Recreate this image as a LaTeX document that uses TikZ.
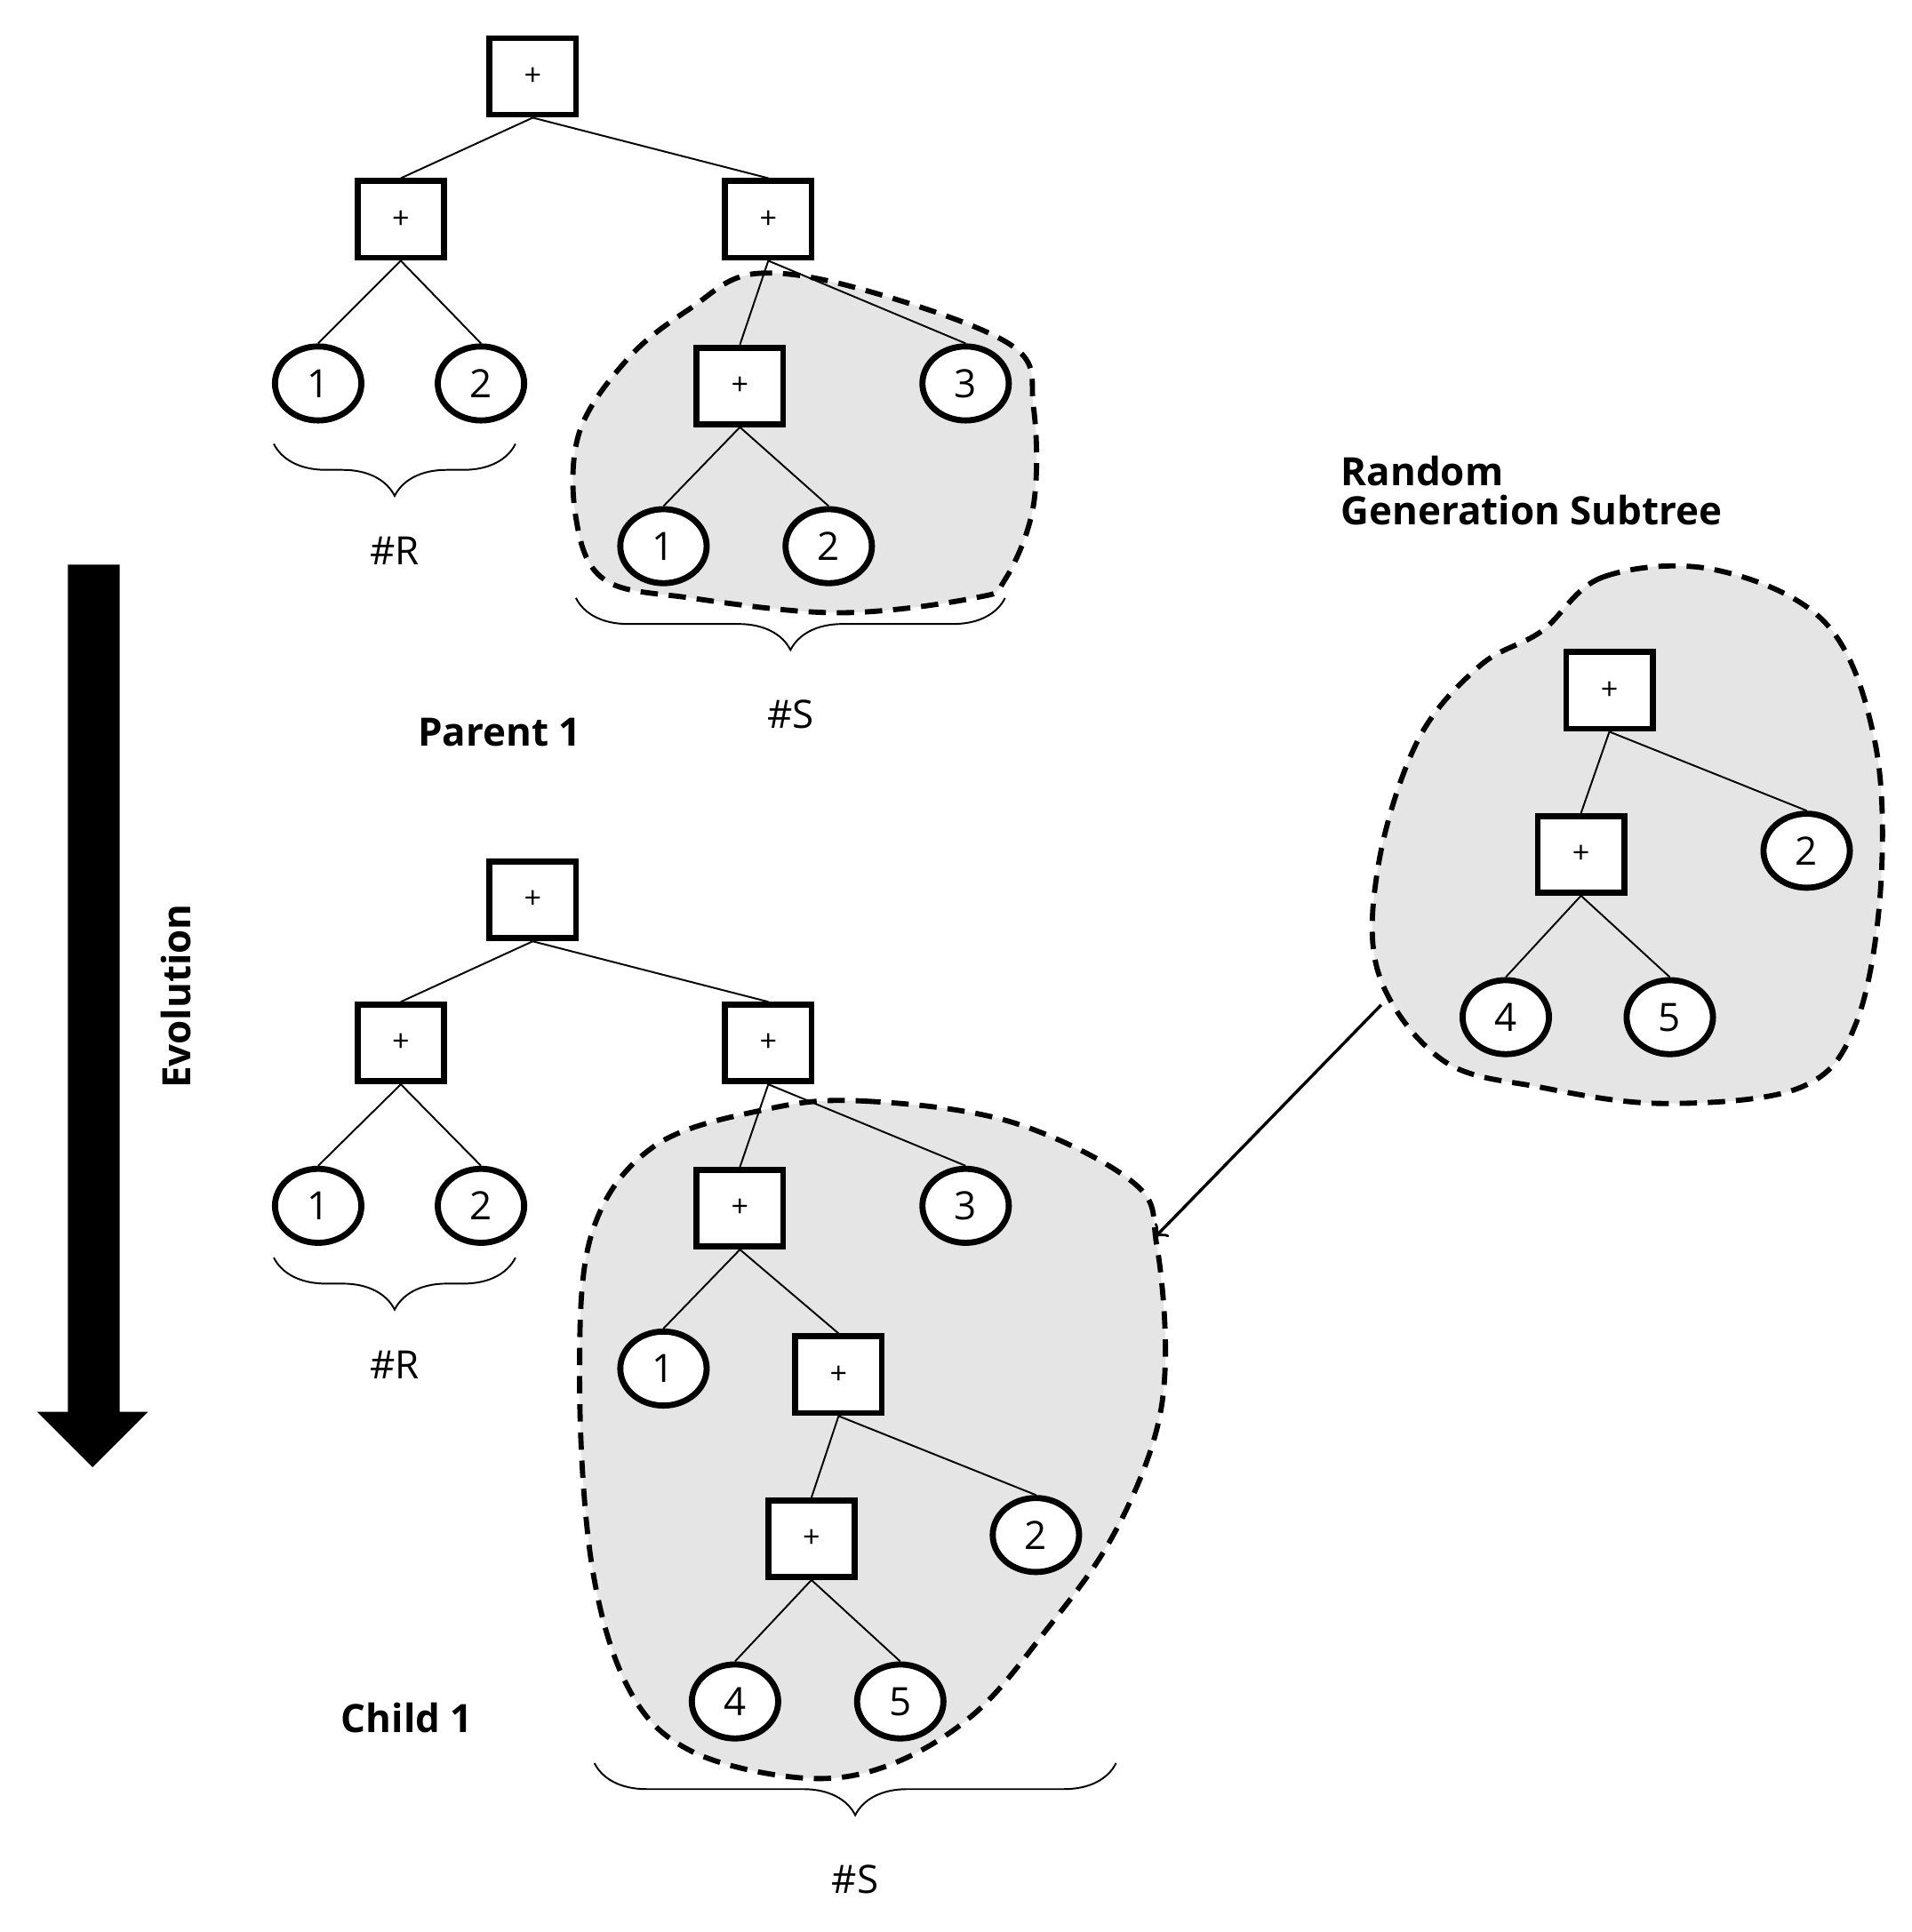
\documentclass[tikz,border=0pt]{standalone}
\usepackage{fontspec}
\setmainfont{Open Sans}
\usetikzlibrary{shapes.geometric,decorations.pathreplacing}

\tikzset{
  op/.style={draw, line width=1.4pt, minimum width=0.7cm, minimum height=0.62cm, inner sep=0pt, fill=white, font=\scriptsize},
  leaf/.style={draw, ellipse, line width=1.4pt, minimum width=0.7cm, minimum height=0.6cm, inner sep=0pt, fill=white, font=\small},
  blob/.style={fill=gray!20, draw, line width=1.2pt, dash pattern=on 4pt off 2.5pt},
  lbl/.style={font=\small},
  title/.style={font=\small\bfseries, align=left},
  brc/.style={decorate, decoration={brace, mirror, amplitude=12pt}},
}

\begin{document}
\begin{tikzpicture}[x=0.01cm, y=-0.01cm]
        \useasboundingbox (0,0) rectangle (1550,1567);

        % Shaded subtrees
        \draw [blob] plot [smooth cycle, tension=0.6] coordinates {(560,250) (612,222) (700,235) (820,280) (838,330) (838,410) (815,470) (790,485) (680,497) (560,485) (490,470) (467,420) (470,350) (510,290)};
        \draw [blob] plot [smooth cycle, tension=0.6] coordinates {(620,900) (700,893) (820,910) (920,960) (938,1010) (945,1100) (935,1170) (900,1250) (850,1320) (790,1390) (720,1432) (650,1442) (560,1420) (510,1370) (480,1270) (470,1120) (480,1000) (530,930)};
        \draw [blob] plot [smooth cycle, tension=0.6] coordinates {(1250,512) (1300,468) (1390,462) (1480,505) (1520,600) (1525,720) (1505,830) (1460,882) (1350,895) (1250,882) (1170,860) (1118,790) (1118,700) (1150,600) (1200,540)};

        % Parent 1
        \node [op] (pr) at (432,62) {+};
        \node [op] (pa) at (325,178) {+};
        \node [op] (pb) at (623,178) {+};
        \node [leaf] (pa1) at (258,311) {1};
        \node [leaf] (pa2) at (390,311) {2};
        \node [op] (pc) at (600,313) {+};
        \node [leaf] (pb3) at (783,311) {3};
        \node [leaf] (pc1) at (538,443) {1};
        \node [leaf] (pc2) at (672,443) {2};
        \foreach \a/\b in {pr/pa, pr/pb, pa/pa1, pa/pa2, pb/pc, pb/pb3, pc/pc1, pc/pc2}
          \draw (\a.south) -- (\b.north);

        \coordinate (prl) at (222,360); \coordinate (prr) at (418,360);
        \draw [brc] (prl) -- (prr) node [midway, below=18pt, lbl] {\#R};
        \coordinate (psl) at (467,485); \coordinate (psr) at (815,485);
        \draw [brc] (psl) -- (psr) node [midway, below=20pt, lbl] (ps) {\#S};
        \node [title] (ptitle) at (405,594) {Parent 1};

        % Child 1
        \node [op] (cr) at (432,730) {+};
        \node [op] (ca) at (325,846) {+};
        \node [op] (cb) at (623,846) {+};
        \node [leaf] (ca1) at (258,978) {1};
        \node [leaf] (ca2) at (390,978) {2};
        \node [op] (cc) at (600,980) {+};
        \node [leaf] (cb3) at (783,978) {3};
        \node [leaf] (cc1) at (538,1110) {1};
        \node [op] (cd) at (680,1115) {+};
        \node [op] (ce) at (658,1248) {+};
        \node [leaf] (cd2) at (840,1245) {2};
        \node [leaf] (ce4) at (596,1380) {4};
        \node [leaf] (ce5) at (730,1380) {5};
        \foreach \a/\b in {cr/ca, cr/cb, ca/ca1, ca/ca2, cb/cc, cb/cb3, cc/cc1, cc/cd, cd/ce, cd/cd2, ce/ce4, ce/ce5}
          \draw (\a.south) -- (\b.north);

        \coordinate (crl) at (222,1020); \coordinate (crr) at (418,1020);
        \draw [brc] (crl) -- (crr) node [midway, below=18pt, lbl] {\#R};
        \coordinate (csl) at (482,1430); \coordinate (csr) at (905,1430);
        \draw [brc] (csl) -- (csr) node [midway, below=20pt, lbl] {\#S};
        \node [title] (ctitle) at (330,1393) {Child 1};

        % Random subtree
        \node [op] (rr) at (1305,560) {+};
        \node [op] (ra) at (1282,693) {+};
        \node [leaf] (r2) at (1465,690) {2};
        \node [leaf] (r4) at (1221,825) {4};
        \node [leaf] (r5) at (1354,825) {5};
        \foreach \a/\b in {rr/ra, rr/r2, ra/r4, ra/r5}
          \draw (\a.south) -- (\b.north);
        \node [title, anchor=west] (rtitle) at (1075,398) {Random\\[-2pt]Generation Subtree};

        \coordinate (rfrom) at (1120,815);
        \coordinate (rto) at (937,1003);
        \draw [->, line width=0.7pt] (rfrom) -- (rto);

        % Evolution arrow
        \fill (55,458) -- (97,458) -- (97,1145) -- (120,1145) -- (75,1190) -- (30,1145) -- (55,1145) -- cycle;
        \node [title, rotate=90] (evo) at (143,808) {Evolution};
\end{tikzpicture}
\end{document}
